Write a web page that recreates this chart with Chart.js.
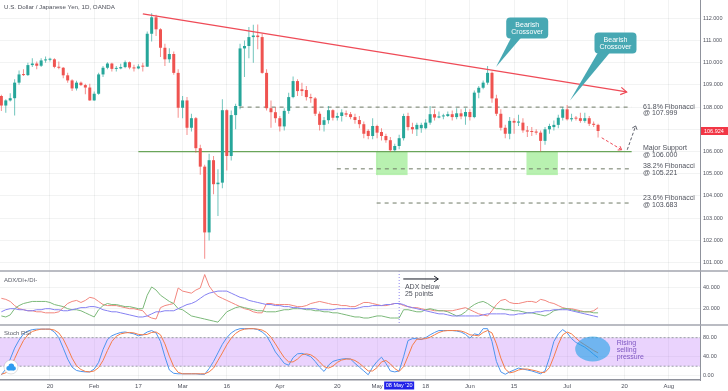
<!DOCTYPE html>
<html><head><meta charset="utf-8">
<script src="https://cdn.jsdelivr.net/npm/chart.js@4.4.0/dist/chart.umd.min.js"></script>
<style>html,body{margin:0;padding:0;background:#fff;overflow:hidden}</style>
</head><body>
<canvas id="c" width="728" height="391"></canvas>
<script>
// ---------- DATA (daily candles, index 0 = 3 Jan 2020 ... 135 = 10 Jul 2020) ----------
const opens = [
108.50,108.07,108.30,108.40,109.10,109.47,109.44,109.89,109.96,109.86,
110.10,110.13,110.15,109.81,109.77,109.43,109.20,108.84,109.10,108.99,
108.88,108.30,108.60,109.47,109.77,109.96,109.72,109.74,109.80,110.02,
109.78,109.74,109.85,109.82,111.30,112.04,111.50,110.67,110.15,110.39,
109.54,107.97,108.30,107.07,107.50,106.15,105.32,102.36,105.61,104.53,
104.60,107.86,105.80,107.64,108.05,110.64,110.75,111.15,111.22,111.15,
109.54,107.95,107.77,107.50,107.13,107.83,108.45,109.17,108.80,108.77,
108.45,108.39,107.70,107.20,107.41,107.86,107.52,107.60,107.72,107.68,
107.55,107.42,107.23,106.93,106.70,107.15,106.88,106.70,106.51,106.06,
106.25,106.60,107.60,107.10,107.00,107.05,107.05,107.30,107.68,107.53,
107.58,107.60,107.68,107.55,107.72,107.58,107.78,107.55,108.65,108.87,
109.10,109.54,108.39,107.70,107.07,106.80,107.38,107.30,107.30,106.95,
106.92,106.90,106.85,106.48,107.00,107.10,107.20,107.52,107.90,107.45,
107.50,107.50,107.38,107.50,107.25,107.20];
const highs = [
108.55,108.35,108.62,109.25,109.65,109.70,110.00,110.20,110.05,110.20,
110.28,110.22,110.20,110.05,109.80,109.55,109.25,109.18,109.15,109.05,
109.05,108.70,109.55,109.85,110.02,110.00,109.85,109.95,110.10,110.05,
109.90,109.93,110.00,111.40,112.22,112.15,111.55,110.85,110.65,110.50,
109.70,108.50,108.45,107.70,107.55,106.30,105.40,105.90,105.80,105.20,
108.35,107.90,107.85,108.15,110.85,111.00,111.60,111.70,111.72,111.30,
109.70,108.30,108.00,107.60,107.95,108.65,109.38,109.25,109.10,108.95,
108.60,108.45,107.80,107.55,108.05,107.90,107.75,107.90,107.85,107.78,
107.70,107.60,107.35,107.00,107.50,107.20,107.05,106.80,106.65,106.35,
106.75,107.70,107.75,107.30,107.30,107.30,107.45,108.05,107.90,107.80,
107.70,107.80,107.85,107.95,107.90,107.95,107.90,108.75,108.95,109.20,
109.85,109.60,108.55,107.90,107.20,107.55,107.50,107.65,107.50,107.15,
107.10,107.00,106.95,107.10,107.25,107.40,107.65,108.00,108.09,107.70,
107.60,107.75,107.75,107.60,107.35,107.25];
const lows = [
107.82,107.75,108.25,107.62,109.00,109.40,109.40,109.80,109.70,109.80,
110.00,110.05,109.75,109.70,109.30,109.10,108.72,108.75,108.95,108.58,
108.28,108.28,108.55,109.35,109.70,109.60,109.60,109.70,109.75,109.70,
109.60,109.70,109.60,109.80,110.95,111.20,110.25,109.85,110.00,109.45,
107.52,107.50,106.74,106.90,105.95,104.96,101.17,102.00,104.08,103.10,
104.35,105.15,105.60,107.00,107.90,109.35,110.20,110.00,110.60,109.50,
107.85,107.07,107.30,106.90,106.95,107.70,108.40,108.50,108.50,108.30,
108.20,107.60,106.95,106.90,107.25,107.40,107.40,107.35,107.55,107.45,
107.25,107.05,106.60,106.55,106.55,106.60,106.50,106.40,105.98,106.00,
106.10,106.50,106.95,106.80,106.70,106.85,107.00,107.20,107.40,107.50,
107.45,107.55,107.40,107.45,107.45,107.20,107.40,107.50,108.40,108.80,
109.00,108.20,107.60,106.95,106.60,106.55,106.80,107.15,106.85,106.65,
106.70,106.75,106.00,106.30,106.80,106.95,107.05,107.40,107.40,107.35,
107.40,107.30,107.30,107.15,107.10,106.63];
const closes = [
108.07,108.30,108.40,109.10,109.47,109.44,109.89,109.96,109.86,110.10,
110.13,110.15,109.81,109.77,109.43,109.20,108.84,109.10,108.99,108.88,
108.30,108.60,109.47,109.77,109.96,109.72,109.74,109.80,110.02,109.78,
109.74,109.83,109.82,111.30,112.04,111.50,110.67,110.15,110.39,109.54,
107.97,108.30,107.07,107.50,106.15,105.32,102.36,105.61,104.53,104.60,
107.86,105.80,107.64,108.05,110.64,110.75,111.15,111.22,111.15,109.54,
107.95,107.77,107.50,107.13,107.83,108.45,109.17,108.72,108.72,108.45,
108.40,107.70,107.20,107.41,107.86,107.52,107.60,107.76,107.66,107.55,
107.42,107.23,106.80,106.70,107.15,106.85,106.70,106.51,106.06,106.25,
106.60,107.60,107.10,107.00,107.20,107.20,107.30,107.68,107.53,107.58,
107.62,107.68,107.55,107.72,107.58,107.78,107.55,108.65,108.87,109.10,
109.54,108.39,107.70,107.07,106.80,107.38,107.30,107.35,106.95,106.90,
106.88,106.85,106.48,107.00,107.15,107.20,107.52,107.90,107.45,107.50,
107.48,107.38,107.50,107.25,107.20,106.924];

const adx = [
17,19,20,20,19,19,18,18,19,19, 20,20,19,19,18,18,19,20,21,21,
22,22,21,19,18,17,17,16,15,14, 13,12,12,13,15,17,17,18,18,18,
20,22,24,25,27,30,33,35,36,37, 37,37,35,33,31,30,28,27,26,25,
24,24,23,23,22,22,21,21,20,20, 20,20,19,19,19,19,20,20,20,20,
20,21,22,22,23,23,23,24,24,25, 25,24,22,21,20,19,18,17,16,15,
15,14,13,13,13,13,13,13,13,14, 15,15,15,15,15,14,14,15,15,16,
16,17,17,18,18,19,19,19,19,18, 17,16,15,14,13,12];
const diPlus = [
13,12,14,20,23,25,26,27,27,27, 27,26,24,23,22,20,19,19,18,16,
14,12,19,23,25,24,24,23,22,22, 21,20,20,33,41,38,33,30,27,25,
20,19,16,13,12,11,10,9,8,7, 12,17,19,21,22,21,20,19,18,18,
17,17,17,18,19,19,20,20,20,19, 19,18,18,17,17,16,16,15,14,13,
12,12,11,11,12,13,13,12,11,11, 11,19,19,18,17,17,19,20,19,18,
18,17,15,13,14,17,21,24,26,27, 25,22,20,20,19,19,18,18,17,16,
16,15,14,13,15,18,19,20,20,19, 18,17,17,17,16,16];
const diMinus = [
30,29,27,23,20,19,18,18,17,17, 16,16,16,17,21,25,27,28,26,28,
31,30,27,24,23,23,23,22,21,20, 20,19,18,13,11,10,21,23,24,25,
40,37,36,35,38,40,53,42,36,32, 30,28,26,24,22,20,19,17,16,16,
25,25,24,24,24,24,23,22,22,23, 25,26,27,26,25,24,24,23,23,22,
22,24,26,26,25,24,23,23,24,25, 25,23,22,21,21,20,19,19,18,18,
18,18,18,19,20,21,19,17,15,14, 13,18,24,28,29,26,25,25,26,27,
27,26,29,28,26,25,23,21,20,20, 19,18,17,17,18,21];
const stochK = [
2,14,35,58,75,88,94,97,98,98, 98,98,92,80,58,35,18,11,9,8,
8,14,28,55,76,84,88,91,92,90, 88,84,86,92,95,90,72,40,12,5,
4,4,4,4,4,3,3,15,30,48, 66,80,90,96,99,99,99,99,97,92,
84,68,50,38,26,22,38,46,47,44, 40,30,18,9,22,30,33,35,36,35,
26,18,10,2,18,30,39,26,10,8, 10,40,74,78,78,76,80,86,91,95,
95,95,95,94,92,87,79,88,86,99, 99,72,30,8,3,8,12,16,14,12,
10,7,4,10,38,72,88,97,90,78, 70,65,60,53,45,38];
const stochD = [
3,6,17,36,56,74,86,93,96,98, 98,98,96,90,77,58,37,21,13,9,
8,10,17,32,53,72,83,88,90,91, 90,87,86,87,91,92,86,67,41,19,
7,4,4,4,4,4,4,8,16,32, 48,65,79,89,95,98,99,99,98,96,
91,81,67,52,38,29,29,35,44,46, 44,38,29,19,16,20,28,33,35,35,
32,26,18,10,10,17,29,32,25,15, 9,19,41,64,77,77,78,81,86,91,
94,95,95,95,94,91,86,85,84,91, 95,90,67,37,14,6,8,12,14,14,
12,10,7,7,17,40,66,86,92,88, 79,71,65,59,53,48];

const xTickIdx    = [11,21,31,41,51,63,76,85,96,106,116,128,141,151];
const xTickLabels = ['20','Feb','17','Mar','16','Apr','20','May','18','Jun','15','Jul','20','Aug'];
const priceTicks = [101,102,103,104,105,106,107,108,109,110,111,112];
const adxTicks = [20,40];
const stochTicks = [0,40,80];

// drawn levels & annotations (index / price)
const trendX = [32.0, 141.47], trendY = [112.19, 108.68];
const fibLevels = [107.999, 106.000, 105.221, 103.683];
const fibNames  = ['61.8% Fibonacci','Major Support','38.2% Fibonacci','23.6% Fibonacci'];
const fibValTxt = ['@ 107.999','@ 106.000','@ 105.221','@ 103.683'];
const fibStart  = [53.9, 31.0, 75.9, 84.9];
const fibEnd    = 142.6;
const zoneFrom = [84.75, 118.8], zoneTo = [91.9, 125.9], zoneHigh = 106.0, zoneLow = 104.94;
const projRedX = [135.82, 140.34], projRedY = [106.62, 106.08];
const projGrayX = [141.6, 143.5], projGrayY = [106.08, 107.15];
const calloutCX = [118.97, 138.94], calloutCY = [111.564, 110.886];
const calloutTipX = [111.91, 128.65], calloutTipY = [109.807, 108.30];
const markIdx = 90, markLabel = "08 May '20";
const bandTop = 80, bandBottom = 20;

// ---------- CHART ----------
Chart.defaults.font.family = '"Liberation Sans", Arial, sans-serif';
const UP = '#26a69a', DN = '#ef5350';
const isUp = i => closes[i] >= opens[i];
const XMIN = -0.31, XMAX = 158.06;
const series = a => a.map((v, i) => ({x: i, y: v}));
const seg = (xs, ys) => xs.map((v, k) => ({x: v, y: ys[k]}));
const L = (data, color, yAxisID, extra) => Object.assign({
  type: 'line', data, yAxisID, borderColor: color, borderWidth: 1, pointRadius: 0,
  tension: 0, fill: false, order: 2 }, extra || {});

const datasets = [
  {type:'bar', data: lows.map((l,i)=>({x:i, y:[l, highs[i]]})), yAxisID:'yP',
   backgroundColor: closes.map((c,i)=> isUp(i) ? 'rgba(38,166,154,0.65)' : 'rgba(239,83,80,0.65)'),
   barThickness: 1, grouped:false, inflateAmount:0, borderWidth:0, order:5},
  {type:'bar', data: opens.map((o,i)=>({x:i, y:[o, closes[i]]})), yAxisID:'yP',
   backgroundColor: closes.map((c,i)=> isUp(i) ? UP : DN),
   barThickness: 3, grouped:false, minBarLength:1, inflateAmount:0, borderWidth:0, order:4},
  L(seg(trendX, trendY), '#ef4b57', 'yP', {borderWidth:1.3, order:0}),
];
fibLevels.forEach((v, k) => {
  const support = k === 1;
  datasets.push(L(seg([fibStart[k], fibEnd], [v, v]), support ? '#6aa55a' : '#6f7a66', 'yP',
    {borderWidth: support ? 1.3 : 1, borderDash: support ? [] : [4, 4], order: 6}));
});
datasets.push(L(seg(projRedX, projRedY), '#ef4b57', 'yP', {borderDash:[3,2], order:0}));
datasets.push(L(seg(projGrayX, projGrayY), '#5d606b', 'yP', {borderDash:[3,2], order:0}));
datasets.push(L(series(adx), '#8580f2', 'yA'));
datasets.push(L(series(diPlus), '#7cb97a', 'yA'));
datasets.push(L(series(diMinus), '#f2867e', 'yA'));
datasets.push(L(seg([XMIN-1, XMAX+1], [bandTop, bandTop]), '#9a9ca6', 'yS',
  {borderDash:[2,2], fill:{value: bandBottom}, backgroundColor:'rgba(190,120,250,0.33)', order:20}));
datasets.push(L(seg([XMIN-1, XMAX+1], [bandBottom, bandBottom]), '#9a9ca6', 'yS', {borderDash:[2,2], order:19}));
datasets.push(L(series(stochD), '#f47c48', 'yS', {order:1}));
datasets.push(L(series(stochK), '#4d95ee', 'yS', {order:1}));

function chevron(ctx, x0, y0, x1, y1, len, color, lw, spread) {
  const a = Math.atan2(y1 - y0, x1 - x0), s = spread || 0.5;
  ctx.save(); ctx.strokeStyle = color; ctx.lineWidth = lw; ctx.setLineDash([]);
  ctx.beginPath();
  ctx.moveTo(x1 - len * Math.cos(a - s), y1 - len * Math.sin(a - s));
  ctx.lineTo(x1, y1);
  ctx.lineTo(x1 - len * Math.cos(a + s), y1 - len * Math.sin(a + s));
  ctx.stroke(); ctx.restore();
}

const yFix = (id, ticks, fmt) => ({
  type:'linear', position:'right', stack:'panels',
  grid:{color:'rgba(42,46,57,0.06)', drawTicks:false, tickLength:0},
  border:{color:'#8f929c', width:1},
  ticks:{padding:3, font:{size:5.5}, color:'#50535e', callback: v => v.toFixed(fmt)},
  afterBuildTicks: s => { s.ticks = ticks.map(v => ({value: v})); },
  afterFit: s => { s.width = 28; s.paddingTop = 0; s.paddingBottom = 0; }
});

const annot = {
  id: 'annot',
  beforeDatasetsDraw(chart) {
    const {ctx, scales: {x, yP}} = chart;
    ctx.save();
    ctx.fillStyle = 'rgba(140,233,128,0.62)';
    for (let k = 0; k < zoneFrom.length; k++) {
      const x0 = x.getPixelForValue(zoneFrom[k]), x1 = x.getPixelForValue(zoneTo[k]);
      const y0 = yP.getPixelForValue(zoneHigh), y1 = yP.getPixelForValue(zoneLow);
      ctx.fillRect(x0, y0, x1 - x0, y1 - y0);
    }
    ctx.restore();
  },
  afterDatasetsDraw(chart) {
    const {ctx, scales: {x, yP, yA, yS}} = chart;
    const X = v => x.getPixelForValue(v);
    ctx.save();
    // arrowheads
    chevron(ctx, X(trendX[0]), yP.getPixelForValue(trendY[0]), X(trendX[1]), yP.getPixelForValue(trendY[1]), 7, '#ef4b57', 1.2, 0.55);
    chevron(ctx, X(projRedX[0]), yP.getPixelForValue(projRedY[0]), X(projRedX[1]), yP.getPixelForValue(projRedY[1]), 4, '#ef4b57', 1, 0.6);
    chevron(ctx, X(projGrayX[0]), yP.getPixelForValue(projGrayY[0]), X(projGrayX[1]), yP.getPixelForValue(projGrayY[1]), 4, '#5d606b', 1, 0.7);

    // fib / support labels
    ctx.font = '7px "Liberation Sans", Arial, sans-serif';
    ctx.fillStyle = '#4f525c'; ctx.textBaseline = 'middle'; ctx.textAlign = 'left';
    const offs = [[0, 6.2], [-3.5, 3.2], [-2.7, 4.3], [-4.8, 2.0]];
    fibLevels.forEach((v, k) => {
      const y = yP.getPixelForValue(v), lx = X(145.17);
      ctx.fillText(fibNames[k], lx, y + offs[k][0]);
      ctx.fillText(fibValTxt[k], lx, y + offs[k][1]);
    });

    // callouts
    const bases = [[-16, -6], [-17.5, -5.5]];
    for (let k = 0; k < 2; k++) {
      const cx = X(calloutCX[k]), cy = yP.getPixelForValue(calloutCY[k]);
      const tx = X(calloutTipX[k]), ty = yP.getPixelForValue(calloutTipY[k]);
      const w = 42, h = 21;
      ctx.fillStyle = '#47a8b3';
      ctx.beginPath(); ctx.roundRect(cx - w / 2, cy - h / 2, w, h, 4); ctx.fill();
      ctx.beginPath();
      ctx.moveTo(cx + bases[k][0], cy + h / 2 - 1); ctx.lineTo(tx, ty); ctx.lineTo(cx + bases[k][1], cy + h / 2 - 1);
      ctx.closePath(); ctx.fill();
      ctx.fillStyle = '#ffffff'; ctx.textAlign = 'center'; ctx.font = '7px "Liberation Sans", Arial, sans-serif';
      ctx.fillText('Bearish', cx, cy - 3.2);
      ctx.fillText('Crossover', cx, cy + 4.0);
    }

    // ADX annotation
    const mx = X(markIdx);
    ctx.strokeStyle = '#8e85f0'; ctx.lineWidth = 1; ctx.setLineDash([1, 2]);
    ctx.beginPath(); ctx.moveTo(mx, yA.top); ctx.lineTo(mx, yA.bottom); ctx.stroke();
    ctx.setLineDash([]);
    const ay = yA.getPixelForValue(48.7), ax0 = X(90.93), ax1 = X(98.85);
    ctx.strokeStyle = '#131722'; ctx.lineWidth = 1;
    ctx.beginPath(); ctx.moveTo(ax0, ay); ctx.lineTo(ax1, ay); ctx.stroke();
    chevron(ctx, ax0, ay, ax1, ay, 5, '#131722', 1, 0.6);
    ctx.fillStyle = '#4f525c'; ctx.textAlign = 'left';
    ctx.fillText('ADX below', X(91.3), ay + 8.4);
    ctx.fillText('25 points', X(91.3), ay + 14.8);

    // ellipse + text in Stoch RSI
    const ex = X(133.78), ey = yS.getPixelForValue(56.2);
    ctx.fillStyle = 'rgba(30,160,232,0.6)';
    ctx.beginPath(); ctx.ellipse(ex, ey, 17.5, 12.5, 0, 0, Math.PI * 2); ctx.fill();
    ctx.fillStyle = '#7e57c2';
    ctx.fillText('Rising', ex + 24, ey - 6);
    ctx.fillText('selling', ex + 24, ey + 0.8);
    ctx.fillText('pressure', ex + 24, ey + 7.7);
    ctx.restore();
  },
  afterDraw(chart) {
    const {ctx, scales: {x, yP, yA, yS}} = chart;
    ctx.save();
    // panel separators
    ctx.strokeStyle = '#a3a6af'; ctx.lineWidth = 1.5;
    [yA.top, yS.top].forEach(y => { ctx.beginPath(); ctx.moveTo(0, y); ctx.lineTo(728, y); ctx.stroke(); });
    // title & panel names
    ctx.textBaseline = 'middle'; ctx.textAlign = 'left';
    ctx.fillStyle = '#4c4f59'; ctx.font = '6.2px "Liberation Sans", Arial, sans-serif';
    ctx.fillText('U.S. Dollar / Japanese Yen, 1D, OANDA', 4, 7.5);
    ctx.font = '6px "Liberation Sans", Arial, sans-serif'; ctx.fillStyle = '#5d606b';
    ctx.fillText('ADX/DI+/DI-', 4, yA.top + 9.3);
    ctx.fillText('Stoch RSI', 4, yS.top + 8.3);
    // current price tag
    const last = closes[closes.length - 1], py = yP.getPixelForValue(last);
    ctx.fillStyle = '#f23645'; ctx.fillRect(701, py - 4, 27, 8);
    ctx.fillStyle = '#ffffff'; ctx.font = '5.5px "Liberation Sans", Arial, sans-serif';
    ctx.fillText(last.toFixed(3), 704, py + 0.3);
    // date marker box
    const mx = x.getPixelForValue(markIdx);
    ctx.fillStyle = '#2121e8'; ctx.fillRect(mx - 15, x.top + 1.5, 30, 8);
    ctx.fillStyle = '#ffffff'; ctx.textAlign = 'center';
    ctx.fillText(markLabel, mx, x.top + 5.7);
    // logo
    ctx.fillStyle = '#ffffff'; ctx.strokeStyle = 'rgba(0,0,0,0.12)'; ctx.lineWidth = 1;
    ctx.beginPath(); ctx.arc(11, 367, 7, 0, Math.PI * 2); ctx.fill(); ctx.stroke();
    ctx.fillStyle = '#2f9bf0';
    ctx.beginPath(); ctx.arc(8.5, 368.3, 2.2, 0, Math.PI * 2); ctx.arc(11.3, 366.3, 2.8, 0, Math.PI * 2); ctx.arc(13.8, 368.4, 2.1, 0, Math.PI * 2); ctx.fill();
    ctx.fillRect(8.5, 368, 5.3, 2.5);
    ctx.restore();
  }
};

new Chart(document.getElementById('c'), {
  type: 'line',
  data: { datasets },
  options: {
    responsive: false, animation: false, events: [],
    layout: { padding: 0 },
    plugins: { legend: {display:false}, tooltip: {enabled:false} },
    scales: {
      x: { type:'linear', position:'bottom', min: XMIN, max: XMAX, offset:false,
           grid:{color:'rgba(42,46,57,0.06)', drawTicks:false, tickLength:0, offset:false},
           border:{color:'#8f929c', width:1.5},
           ticks:{autoSkip:false, maxRotation:0, padding:2.5, font:{size:6}, color:'#50535e',
                  callback:(v, i) => xTickLabels[i]},
           afterBuildTicks: s => { s.ticks = xTickIdx.map(v => ({value: v})); },
           afterFit: s => { s.height = 11; s.paddingLeft = 0; s.paddingRight = 0; } },
      yP: Object.assign(yFix('yP', priceTicks, 3), {min:100.624, max:112.819, stackWeight:271}),
      yA: Object.assign(yFix('yA', adxTicks, 3), {min:4.25, max:56.4, stackWeight:54}),
      yS: Object.assign(yFix('yS', stochTicks, 2), {min:-9.05, max:106.7, stackWeight:55})
    }
  },
  plugins: [annot]
});
</script>
</body></html>
